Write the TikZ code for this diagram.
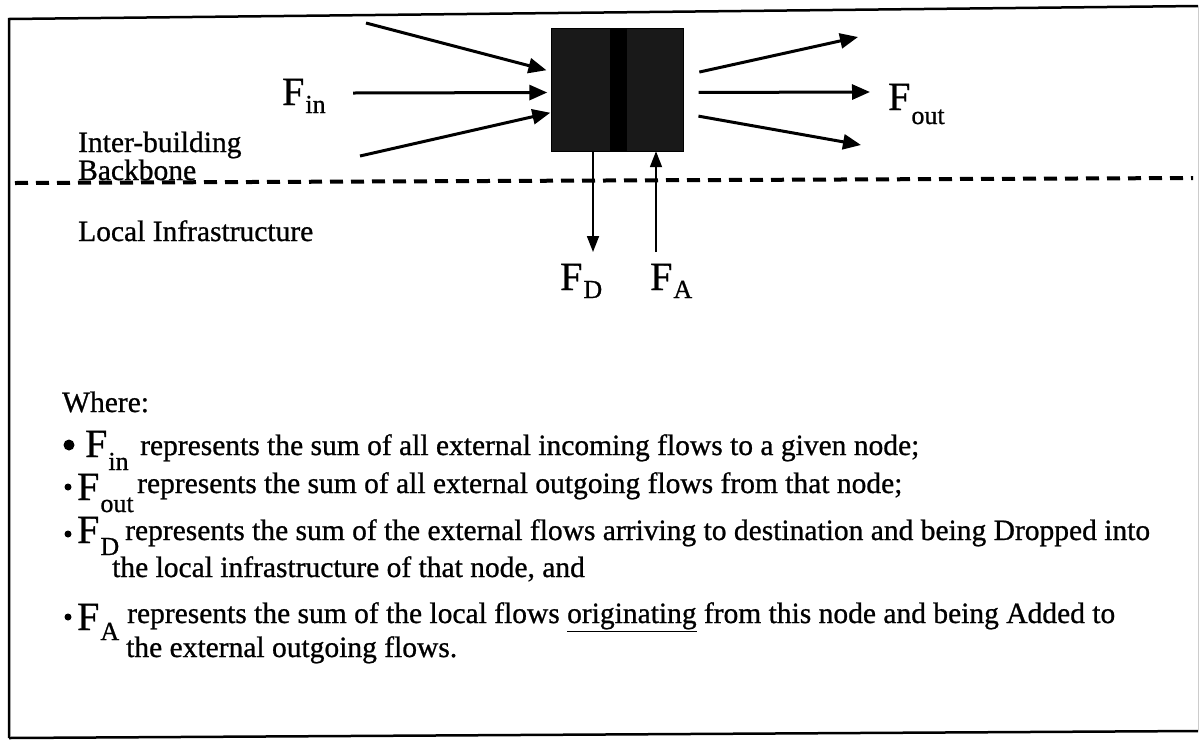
\documentclass[tikz,border=0pt]{standalone}
\usepackage{fontspec}
\setmainfont{Liberation Serif}[FakeBold=0.8]
\usetikzlibrary{arrows.meta}

% F with a lowered subscript, optional drop
\newcommand{\Fsub}[2][10pt]{F\kern1pt\raisebox{-#1}{\fontsize{26}{26}\selectfont #2}}

\begin{document}
\begin{tikzpicture}[x=1pt,y=-1pt,
  lbl/.style={inner sep=0pt,anchor=base west,font=\fontsize{29.5}{32}\selectfont},
  flabel/.style={inner sep=0pt,anchor=base west,font=\fontsize{40}{40}\selectfont},
  flow/.style={line width=3pt,-{Triangle[length=18pt,width=15pt]}},
  updown/.style={line width=1.8pt,-{Triangle[length=16pt,width=12pt]}}]
\useasboundingbox (0,0) rectangle (1200,740);
% frame
\draw[line width=2.5pt] (9,738) -- (9,19) -- (1198,6);
\draw[line width=2.5pt] (9,738) -- (1198,731);
\draw[black!20,line width=0.8pt] (1198,6) -- (1198,731);
% backbone / local boundary
\draw[line width=4pt,dash pattern=on 13pt off 8pt] (15,183) -- (1193,178);
% the network node
\node[draw,fill=black!90,minimum width=132pt,minimum height=123pt,inner sep=0pt] (nodebox) at (617.5,89.5) {};
\fill[black] ([xshift=-8pt]nodebox.north) rectangle ([xshift=9pt]nodebox.south);
% incoming flows
\coordinate (in1) at (366,23);
\coordinate (in2) at (353,93);
\coordinate (in3) at (360,156);
\draw[flow,shorten >=5pt] (in1) -- ([yshift=18pt]nodebox.west);
\draw[flow,shorten >=4pt] (in2) -- ([yshift=-3pt]nodebox.west);
\draw[flow,shorten >=1pt] (in3) -- ([yshift=-23pt]nodebox.west);
% outgoing flows
\coordinate (out1) at (858,37);
\coordinate (out2) at (870,92);
\coordinate (out3) at (861,145);
\draw[flow,shorten <=16pt] ([yshift=14pt]nodebox.east) -- (out1);
\draw[flow,shorten <=15pt] ([yshift=-3pt]nodebox.east) -- (out2);
\draw[flow,shorten <=15pt] ([yshift=-24pt]nodebox.east) -- (out3);
% dropped / added
\coordinate (dropend) at (593,252);
\coordinate (addstart) at (656,252);
\draw[updown] ([xshift=-24.5pt]nodebox.south) -- (dropend);
\draw[updown] (addstart) -- ([xshift=38.5pt]nodebox.south);
% flow labels
\node[flabel] (fin) at (282,105) {\Fsub[8pt]{in}};
\node[flabel] (fout) at (888,110) {\Fsub[14pt]{out}};
\node[flabel] (fd) at (560,290) {\Fsub[8pt]{D}};
\node[flabel] (fa) at (650,290) {\Fsub[8pt]{A}};
% areas
\node[lbl] (backbone1) at (78,152) {Inter-building};
\node[lbl] (backbone2) at (78,180) {Backbone};
\node[lbl] (local) at (78,241) {Local Infrastructure};
% legend
\node[lbl] (where) at (62,412) {Where:};
\fill (69,445) circle (5.5pt);
\fill (68,487) circle (3.5pt);
\fill (68,534) circle (3.5pt);
\fill (68,617) circle (3.5pt);
\node[flabel] (bfin) at (85,457) {\Fsub[13pt]{in}};
\node[lbl] (tin) at (140,455) {represents the sum of all external incoming flows to a given node;};
\node[flabel] (bfout) at (77,500) {\Fsub[12pt]{out}};
\node[lbl] (tout) at (137,493) {represents the sum of all external outgoing flows from that node;};
\node[flabel] (bfd) at (77,543) {\Fsub[12pt]{D}};
\node[lbl] (td) at (125,540) {represents the sum of the external flows arriving to destination and being Dropped into};
\node[lbl] (td2) at (112,577) {the local infrastructure of that node, and};
\node[flabel] (bfa) at (77,630) {\Fsub[10pt]{A}};
\node[lbl] (ta) at (127,623) {represents the sum of the local flows \underline{originating} from this node and being Added to};
\node[lbl] (ta2) at (126,657) {the external outgoing flows.};
\end{tikzpicture}
\end{document}
